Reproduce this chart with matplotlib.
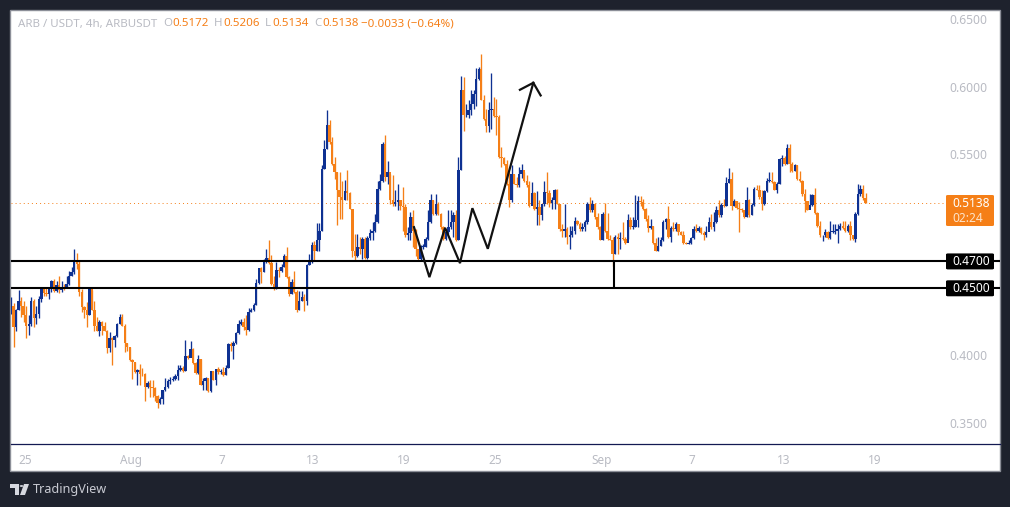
"""ARB / USDT 4h candlestick chart in the TradingView look"""

import matplotlib
matplotlib.use('Agg')

import matplotlib.pyplot as plt
from matplotlib.patches import Rectangle, Polygon, FancyBboxPatch

plt.rcParams['font.family'] = ['Noto Sans', 'DejaVu Sans']

first_open = 0.4322

closes = [
    .4365, .4211, .4342, .4409, .4365, .4298, .4223, .4231, .4402, .4278,
    .4310, .4421, .4508, .4464, .4459, .4496, .4551, .4479, .4521, .4489,
    .4508, .4503, .4533, .4595, .4620, .4702, .4682, .4476, .4360, .4335,
    .4298, .4496, .4340, .4223, .4186, .4246, .4223, .4186, .4057, .4131,
    .4112, .4146, .4236, .4290, .4223, .4092, .4062, .3963, .3950, .3876,
    .3893, .3864, .3859, .3765, .3799, .3769, .3760, .3702, .3645, .3678,
    .3740, .3765, .3809, .3814, .3827, .3851, .3893, .3908, .3883, .3993,
    .3983, .4045, .3943, .3869, .3975, .3784, .3809, .3831, .3735, .3883,
    .3821, .3896, .3876, .3877, .3856, .3908, .4087, .4067, .4092, .4166,
    .4231, .4248, .4211, .4191, .4327, .4335, .4379, .4538, .4650, .4620,
    .4694, .4727, .4687, .4533, .4496, .4637, .4627, .4657, .4737, .4583,
    .4459, .4546, .4471, .4342, .4409, .4434, .4409, .4677, .4694, .4819,
    .4777, .4856, .4930, .5389, .5538, .5712, .5588, .5426, .5364, .5228,
    .5183, .5159, .5221, .5208, .5092, .4777, .4737, .4811, .4794, .4868,
    .4727, .4876, .4911, .4923, .4992, .5240, .5302, .5570, .5327, .5364,
    .5159, .5129, .5141, .5159, .5116, .5104, .4893, .4911, .5030, .4930,
    .4794, .4720, .4806, .4810, .4868, .4992, .5154, .5054, .5129, .5054,
    .4955, .4868, .4918, .4955, .4992, .5042, .4856, .5377, .5972, .5786,
    .5786, .5828, .5873, .5947, .6059, .6128, .5903, .5761, .5704, .5823,
    .5836, .5779, .5774, .5476, .5471, .5426, .5278, .5159, .5352, .5278,
    .5265, .5352, .5377, .5302, .5265, .5116, .5208, .5092, .5104, .5042,
    .5124, .5216, .5208, .5134, .5154, .5228, .5129, .4943, .4930, .4943,
    .4881, .4893, .4930, .4999, .4980, .4943, .4955, .4992, .5129, .5079,
    .5129, .5030, .4955, .4863, .5054, .4930, .4868, .4863, .4757, .4881,
    .4868, .4876, .4868, .4839, .5005, .4955, .4955, .5005, .5153, .5141,
    .5091, .5017, .4950, .4960, .4836, .4781, .4818, .4856, .4997, .5017,
    .4880, .4947, .4942, .4980, .4918, .4900, .4836, .4831, .4840, .4875, .4942,
    .4923, .4947, .4913, .4893, .4918, .4997, .4955, .4992, .5079, .5042,
    .5123, .5116, .5285, .5314, .5116, .5148, .5099, .5091, .5079, .5034,
    .5158, .5042, .5123, .5240, .5233, .5178, .5128, .5223, .5297, .5302,
    .5290, .5233, .5277, .5463, .5471, .5426, .5545, .5426, .5376, .5414,
    .5314, .5302, .5198, .5148, .5086, .5123, .5195, .5061, .4960, .4893,
    .4893, .4918, .4873, .4918, .4918, .4930, .4942, .4960, .4950, .4923, .4960,
    .4893, .4868, .5054, .5198, .5240, .5172, .5138,
]

highs = [
    .4434, .4389, .4345, .4489, .4434, .4409, .4372, .4298, .4434, .4421,
    .4372, .4446, .4513, .4508, .4503, .4513, .4563, .4570, .4558, .4588,
    .4553, .4533, .4595, .4627, .4657, .4789, .4766, .4702, .4496, .4365,
    .4397, .4503, .4489, .4409, .4290, .4265, .4255, .4248, .4193, .4174,
    .4136, .4149, .4241, .4310, .4310, .4231, .4092, .4062, .3975, .3955,
    .3901, .3938, .3908, .3869, .3809, .3814, .3814, .3765, .3708, .3690,
    .3745, .3834, .3827, .3839, .3851, .3864, .3926, .3926, .3923, .4112,
    .4000, .4107, .4057, .3948, .4000, .3975, .3834, .3839, .3831, .3888,
    .3888, .3901, .3918, .3901, .3918, .3926, .4092, .4104, .4107, .4174,
    .4265, .4273, .4280, .4305, .4355, .4355, .4392, .4570, .4652, .4662,
    .4719, .4794, .4856, .4751, .4588, .4694, .4657, .4682, .4756, .4811,
    .4595, .4570, .4627, .4484, .4479, .4479, .4459, .4682, .4756, .4848,
    .4849, .4985, .4985, .5419, .5600, .5823, .5754, .5625, .5476, .5364,
    .5364, .5302, .5307, .5377, .5216, .5092, .4906, .4906, .4881, .4881,
    .4881, .4886, .4943, .4992, .5054, .5302, .5352, .5588, .5642, .5444,
    .5352, .5340, .5228, .5278, .5159, .5253, .5129, .4955, .5067, .5079,
    .4943, .4794, .4819, .4826, .4881, .5079, .5203, .5159, .5203, .5141,
    .5060, .4967, .4943, .5079, .5079, .5067, .5079, .5476, .6076, .6071,
    .5873, .5898, .5977, .5972, .6141, .6146, .6245, .5935, .5836, .5885,
    .6103, .5922, .5910, .5786, .5550, .5476, .5451, .5364, .5414, .5352,
    .5327, .5402, .5426, .5364, .5340, .5302, .5290, .5216, .5223, .5154,
    .5129, .5302, .5364, .5228, .5179, .5240, .5240, .5129, .4980, .5129,
    .4955, .4967, .4967, .5030, .5005, .4992, .4987, .5005, .5141, .5178,
    .5154, .5134, .5060, .4962, .5067, .5136, .5060, .4893, .4881, .4893,
    .4911, .4918, .4992, .4881, .5054, .5030, .5030, .5191, .5190, .5190,
    .5166, .5099, .5042, .5017, .4960, .4873, .4880, .4880, .5009, .5024,
    .5116, .4960, .4997, .4997, .4980, .4925, .4930, .4848, .4860, .4880, .4967,
    .4980, .4960, .4955, .4930, .4967, .5034, .5054, .5066, .5116, .5158,
    .5133, .5166, .5327, .5394, .5369, .5161, .5148, .5141, .5099, .5084,
    .5257, .5166, .5133, .5257, .5270, .5265, .5228, .5233, .5319, .5364,
    .5369, .5302, .5290, .5471, .5495, .5481, .5570, .5570, .5438, .5426,
    .5419, .5376, .5307, .5240, .5153, .5203, .5203, .5245, .5066, .5004,
    .4900, .4938, .4923, .5004, .4980, .4975, .4980, .4985, .4999, .5004, .4980,
    .4999, .4898, .5066, .5277, .5265, .5265, .5206,
]

lows = [
    .4310, .4062, .4181, .4335, .4290, .4248, .4131, .4151, .4223, .4211,
    .4236, .4278, .4397, .4446, .4444, .4424, .4471, .4469, .4471, .4464,
    .4471, .4484, .4503, .4521, .4595, .4608, .4645, .4446, .4322, .4280,
    .4211, .4298, .4335, .4186, .4185, .4144, .4156, .4181, .4017, .4025,
    .3926, .4062, .4141, .4231, .4218, .4025, .4032, .3958, .3826, .3871,
    .3777, .3777, .3851, .3665, .3760, .3690, .3690, .3665, .3608, .3636,
    .3636, .3735, .3760, .3789, .3809, .3814, .3814, .3888, .3874, .3883,
    .3975, .3988, .3938, .3859, .3864, .3777, .3740, .3745, .3727, .3727,
    .3814, .3777, .3864, .3859, .3849, .3856, .3908, .4032, .3975, .4087,
    .4161, .4226, .4191, .4149, .4186, .4322, .4330, .4379, .4533, .4538,
    .4620, .4687, .4682, .4521, .4484, .4496, .4583, .4620, .4657, .4578,
    .4441, .4454, .4466, .4327, .4340, .4404, .4330, .4379, .4670, .4689,
    .4707, .4777, .4777, .4925, .5389, .5538, .5575, .5421, .5315, .4968,
    .5017, .5017, .5154, .5154, .5087, .4732, .4707, .4732, .4757, .4720,
    .4720, .4720, .4856, .4856, .4918, .4987, .5228, .5290, .5302, .5278,
    .5129, .5116, .5116, .5079, .5079, .4930, .4881, .4856, .4856, .4806,
    .4744, .4712, .4712, .4794, .4806, .4856, .4987, .5049, .5042, .5042,
    .4943, .4861, .4861, .4906, .4943, .4881, .4851, .4856, .5377, .5674,
    .5774, .5769, .5786, .5836, .5860, .6051, .5898, .5749, .5662, .5662,
    .5687, .5774, .5637, .5471, .5402, .5421, .5265, .5104, .5141, .5273,
    .5253, .5253, .5320, .5290, .5253, .5104, .5166, .5079, .4968, .4968,
    .5005, .5116, .5129, .5104, .5092, .5092, .5124, .4930, .4881, .4881,
    .4831, .4794, .4881, .4906, .4968, .4930, .4930, .4930, .4980, .5067,
    .5067, .5017, .4943, .4856, .4856, .4918, .4856, .4856, .4665, .4757,
    .4757, .4794, .4861, .4831, .4868, .4943, .4943, .4955, .4955, .5116,
    .5079, .5004, .4918, .4942, .4826, .4776, .4781, .4818, .4851, .4942,
    .4875, .4843, .4930, .4930, .4893, .4893, .4826, .4826, .4826, .4826, .4868,
    .4918, .4918, .4905, .4861, .4885, .4955, .4942, .4923, .4985, .5034,
    .5034, .5104, .5116, .5282, .5079, .5109, .5091, .4918, .5066, .5024,
    .5034, .5034, .5042, .5116, .5228, .5166, .5079, .5123, .5215, .5290,
    .5282, .5228, .5208, .5277, .5409, .5418, .5426, .5364, .5364, .5371,
    .5307, .5294, .5190, .5066, .5079, .5116, .5116, .5054, .4955, .4885,
    .4851, .4880, .4868, .4868, .4910, .4905, .4836, .4935, .4942, .4918, .4918,
    .4861, .4861, .4843, .5049, .5190, .5158, .5134,
]

opens = [first_open] + closes[:-1]

price_ticks = [0.65, 0.60, 0.55, 0.40, 0.35]
price_labels = ['0.6500', '0.6000', '0.5500', '0.4000', '0.3500']
time_ticks = [5.5, 47.5, 83.5, 119.5, 155.5, 191.5, 233.5, 269.5, 305.5, 341.5]
time_labels = ['25', 'Aug', '7', '13', '19', '25', 'Sep', '7', '13', '19']

level_prices = [0.47, 0.45]
last_price = 0.5138
drop_x = 238.4

zigzag_x = [159.4, 165.5, 171.7, 177.6, 182.5, 188.6, 206.6]
zigzag_y = [.4955, .4583, .4950, .4687, .5096, .4794, .6029]
arrow_x = [201.3, 206.6, 209.5]
arrow_y = [.5977, .6029, .5935]

BG = '#1e222d'
BLUE = '#0e3192'
ORANGE = '#f57f17'
GREY = '#b9bbc3'
W, H = 1010, 507


def box(x0, y0, x1, y1):
    # pixel box, y counted from the top, into figure fractions
    return x0 / W, 1 - y1 / H, (x1 - x0) / W, (y1 - y0) / H


def top_text(x, text, color):
    fig.text(x / W, 1 - 24 / H, text, color=color, fontsize=8.3, va='center', ha='left', zorder=6)


def price_y(price):
    return 19.5 + (0.65 - price) * 1344


def price_box(price, height, color):
    y = price_y(price)
    x0, y0, w, h = box(946, y - height / 2, 994, y + height / 2)
    fig.add_artist(FancyBboxPatch((x0, y0), w, h, boxstyle='round,pad=0,rounding_size=0.002',
                                  transform=fig.transFigure, facecolor=color, edgecolor='none',
                                  zorder=5))


fig = plt.figure(figsize=(W / 100, H / 100), dpi=100, facecolor=BG)

# white pane with the thin grey edge, sits behind the axes
x0, y0, w, h = box(10, 10, 1000, 471)
fig.add_artist(Rectangle((x0, y0), w, h, transform=fig.transFigure, facecolor='white',
                         edgecolor='#8c8f98', linewidth=1.0, zorder=-1))

ax = fig.add_axes(box(10.5, 11, 999.5, 444))
ax.patch.set_alpha(0)
ax.set_xlim(-0.2, 391.0)
ax.set_ylim(0.65 - (444 - 19.5) / 1344, 0.65 + (19.5 - 11) / 1344)

idx = list(range(len(closes)))
colors = [BLUE if c >= o else ORANGE for o, c in zip(opens, closes)]
bottoms = [min(o, c) for o, c in zip(opens, closes)]
heights = [max(abs(c - o), 0.0006) for o, c in zip(opens, closes)]

ax.vlines(idx, lows, highs, colors=colors, linewidth=0.95, zorder=2)
ax.bar(idx, heights, bottom=bottoms, width=0.95, color=colors, linewidth=0, zorder=3)

ax.axhline(last_price, xmax=(369.5 + 0.2) / 391.2, color=ORANGE, linewidth=0.7,
           linestyle=(0, (1, 3.2)), zorder=1)
for level in level_prices:
    ax.axhline(level, color='black', linewidth=1.5, zorder=4)
ax.vlines([drop_x], level_prices[1], level_prices[0], colors='black', linewidth=1.5, zorder=4)

ax.plot(zigzag_x, zigzag_y, color='#111111', linewidth=1.6, zorder=4, solid_joinstyle='miter')
ax.plot(arrow_x, arrow_y, color='#111111', linewidth=1.6, zorder=4, solid_joinstyle='miter')

for side in ['top', 'left', 'right']:
    ax.spines[side].set_visible(False)
ax.spines['bottom'].set_color('#131a52')
ax.spines['bottom'].set_linewidth(0.9)

ax.yaxis.tick_right()
ax.set_yticks(price_ticks, price_labels)
ax.tick_params(axis='y', length=0, pad=-36, labelsize=8.7, labelcolor=GREY)
ax.set_xticks(time_ticks, time_labels)
ax.tick_params(axis='x', length=0, pad=7, labelsize=8.5, labelcolor=GREY)

# legend row across the top
top_text(18, 'ARB / USDT, 4h, ARBUSDT', GREY)
top_text(163, 'O', GREY)
top_text(172, '0.5172', ORANGE)
top_text(214, 'H', GREY)
top_text(223, '0.5206', ORANGE)
top_text(265, 'L', GREY)
top_text(272, '0.5134', ORANGE)
top_text(314, 'C', GREY)
top_text(322, '0.5138', ORANGE)
top_text(361, '\u22120.0033 (\u22120.64%)', ORANGE)

# price tags on the right
x0, y0, w, h = box(946, 195, 994, 226)
fig.add_artist(FancyBboxPatch((x0, y0), w, h, boxstyle='round,pad=0,rounding_size=0.002',
                              transform=fig.transFigure, facecolor=ORANGE, edgecolor='none',
                              zorder=5))
fig.text(971 / W, 1 - 203.5 / H, '0.5138', color='white', fontsize=8.6, fontweight='bold',
         ha='center', va='center', zorder=6)
fig.text(968 / W, 1 - 218 / H, '02:24', color='#fde3c8', fontsize=8.6, ha='center', va='center',
         zorder=6)
for level, label in zip(level_prices, ['0.4700', '0.4500']):
    price_box(level, 16, 'black')
    fig.text(971 / W, 1 - price_y(level) / H, label, color='white', fontsize=8.6, fontweight='bold',
             ha='center', va='center', zorder=6)

# TradingView mark
logo_parts = [
    [(10, 484), (19, 484), (19, 495), (15, 495), (15, 488), (10, 488)],
    [(24, 484), (29, 484), (25, 495), (20, 495)],
]
for part in logo_parts:
    pts = [(x / W, 1 - y / H) for x, y in part]
    fig.add_artist(Polygon(pts, closed=True, transform=fig.transFigure, facecolor='#d6d8df',
                           edgecolor='none', zorder=5))
fig.add_artist(plt.Circle((21.5 / W, 1 - 486 / H), 0.0018, transform=fig.transFigure,
                          facecolor='#d6d8df', edgecolor='none', zorder=5))
fig.text(33 / W, 1 - 489.5 / H, 'TradingView', color='#c8cad2', fontsize=9.1, ha='left', va='center',
         zorder=6)

fig.savefig('out.png', dpi=100, facecolor=BG)
plt.close(fig)
